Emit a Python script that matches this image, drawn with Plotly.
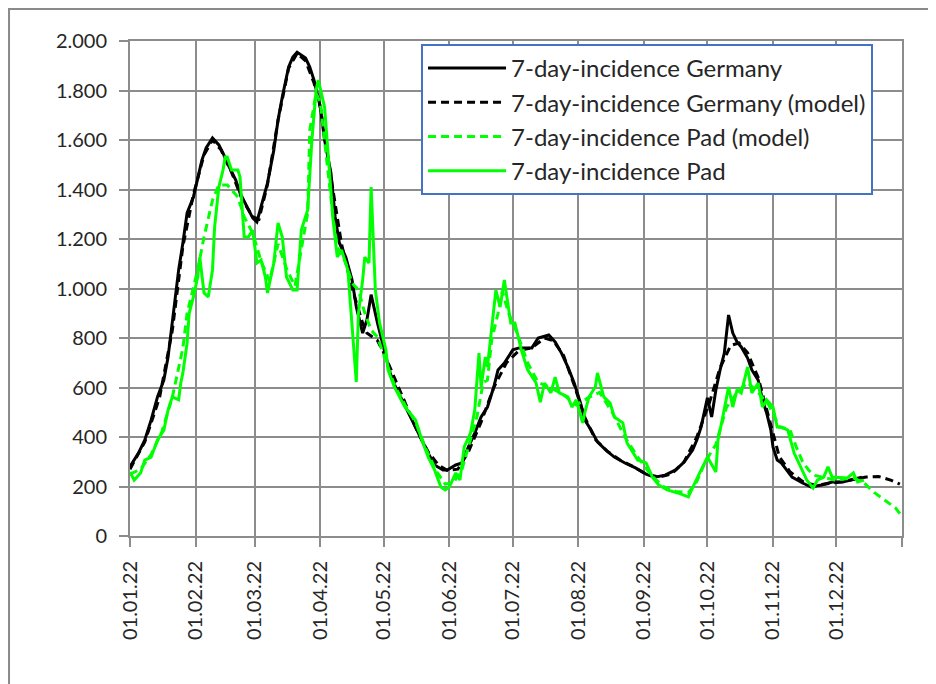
import pandas as pd
import plotly.graph_objects as go

# days since 01.01.2022 and 7-day incidence values
de_day = [0, 4, 7, 10, 13, 16, 18, 20, 21, 23, 25, 26, 27, 30, 32, 34, 36, 39, 42, 44,
          46, 50, 52, 56, 58, 60, 62, 65, 68, 70, 72, 75, 77, 79, 83, 85, 87, 90, 92, 95,
          97, 99, 102, 105, 107, 110, 112, 114, 117, 120, 122, 124, 127, 131, 136, 141, 144, 148, 150, 154,
          157, 160, 163, 166, 169, 172, 174, 177, 181, 184, 190, 193, 198, 201, 204, 207, 210, 213, 215, 218,
          221, 225, 229, 234, 239, 244, 248, 253, 258, 262, 266, 268, 270, 272, 273, 275, 277, 279, 281, 283,
          285, 287, 289, 292, 294, 297, 299, 301, 303, 304, 306, 308, 313, 318, 322, 327, 332, 337, 341, 346]
de_val = [280, 335, 388, 469, 562, 630, 723, 861, 941, 1075, 1184, 1248, 1305, 1370, 1451, 1519, 1568, 1608, 1580, 1547,
          1507, 1438, 1386, 1317, 1285, 1269, 1329, 1426, 1559, 1681, 1774, 1895, 1935, 1955, 1931, 1895, 1842, 1733, 1600, 1467,
          1289, 1184, 1127, 1034, 925, 820, 873, 975, 861, 752, 690, 630, 578, 509, 416, 335, 287, 267, 267, 287,
          295, 360, 416, 481, 521, 602, 671, 699, 752, 760, 760, 800, 812, 784, 739, 683, 618, 537, 469, 428,
          380, 347, 319, 295, 275, 250, 238, 246, 267, 299, 347, 388, 440, 521, 558, 481, 590, 671, 739, 893,
          820, 784, 764, 719, 671, 630, 550, 497, 428, 360, 307, 295, 238, 214, 198, 206, 218, 218, 226, 238]

de_model_day = [0, 7, 14, 20, 25, 30, 35, 39, 43, 48, 53, 58, 61, 65, 70, 75, 79, 83, 87, 90,
                95, 100, 105, 110, 112, 117, 120, 125, 131, 136, 141, 146, 150, 155, 160, 166, 172, 178, 184, 190,
                196, 200, 205, 210, 215, 220, 226, 232, 238, 244, 250, 256, 262, 268, 274, 279, 284, 288, 292, 297,
                302, 307, 312, 318, 324, 330, 336, 342, 348, 354, 360, 364]
de_model_val = [270, 380, 560, 830, 1170, 1380, 1540, 1600, 1560, 1470, 1360, 1290, 1280, 1420, 1680, 1890, 1950, 1920, 1830, 1730,
                1450, 1180, 1000, 860, 820, 790, 740, 640, 520, 420, 340, 285, 265, 270, 340, 460, 600, 700, 750, 760,
                800, 790, 730, 610, 480, 390, 340, 305, 280, 250, 238, 250, 300, 400, 540, 680, 770, 780, 740, 640,
                480, 320, 260, 220, 205, 210, 218, 228, 238, 240, 225, 210]

pad_day = [0, 2, 5, 7, 10, 13, 16, 18, 20, 23, 24, 25, 27, 28, 30, 32, 33, 35, 37, 39,
           40, 42, 44, 45, 46, 48, 51, 52, 53, 54, 56, 58, 60, 62, 64, 65, 68, 70, 72, 74,
           77, 79, 81, 83, 84, 86, 88, 89, 91, 92, 94, 96, 98, 100, 103, 105, 107, 108, 110, 111,
           113, 114, 116, 118, 121, 122, 125, 130, 135, 138, 141, 144, 147, 149, 151, 154, 156, 158, 161, 163,
           165, 166, 168, 169, 171, 173, 175, 177, 180, 182, 185, 188, 192, 194, 196, 199, 201, 203, 207, 209,
           211, 214, 215, 217, 220, 221, 224, 227, 229, 233, 235, 237, 240, 244, 247, 250, 254, 259, 264, 267,
           270, 273, 277, 278, 280, 283, 285, 287, 289, 292, 294, 297, 299, 301, 304, 306, 308, 311, 314, 317,
           320, 323, 325, 328, 330, 332, 336, 339, 342, 344, 347]
pad_val = [259, 226, 255, 307, 319, 388, 428, 509, 562, 550, 618, 659, 780, 901, 966, 1046, 1127, 982, 966, 1075,
           1248, 1410, 1479, 1531, 1531, 1479, 1479, 1451, 1329, 1208, 1208, 1236, 1103, 1115, 1046, 982, 1103, 1265, 1208, 1046,
           994, 994, 1236, 1289, 1317, 1600, 1802, 1842, 1774, 1733, 1507, 1277, 1127, 1156, 1075, 861, 622, 901, 1034, 1127,
           1103, 1410, 994, 861, 752, 671, 602, 521, 469, 388, 319, 267, 198, 186, 198, 255, 226, 360, 416, 509,
           739, 602, 723, 683, 832, 994, 925, 1034, 861, 861, 752, 671, 618, 541, 618, 578, 642, 578, 562, 521,
           550, 457, 497, 562, 602, 659, 562, 537, 481, 457, 376, 347, 307, 295, 238, 206, 186, 174, 158, 214,
           267, 319, 259, 388, 469, 602, 521, 590, 578, 683, 578, 618, 521, 550, 521, 440, 440, 428, 335, 279,
           226, 194, 226, 238, 279, 238, 234, 234, 255, 218, 226]

pad_model_day = [0, 5, 10, 15, 20, 25, 27, 32, 35, 39, 42, 46, 51, 54, 58, 62, 66, 70, 74, 78,
                 82, 84, 85, 88, 90, 92, 96, 98, 102, 105, 108, 111, 114, 117, 121, 125, 130, 135, 140, 145,
                 149, 153, 157, 161, 164, 167, 169, 171, 174, 176, 179, 183, 188, 193, 199, 205, 211, 217, 222, 228,
                 234, 240, 246, 252, 258, 264, 268, 272, 277, 282, 287, 292, 297, 302, 307, 312, 315, 318, 321, 324,
                 333, 342, 347, 352, 357, 362, 364]
pad_model_val = [250, 270, 330, 420, 560, 760, 900, 1075, 1208, 1357, 1418, 1418, 1370, 1289, 1224, 1110, 1030, 1180, 1080, 1010,
                 1208, 1305, 1640, 1790, 1750, 1600, 1289, 1168, 1103, 1022, 994, 901, 832, 804, 711, 610, 530, 460, 350, 260,
                 210, 215, 270, 390, 480, 620, 630, 792, 900, 990, 900, 820, 700, 620, 600, 570, 530, 560, 580, 500,
                 400, 320, 250, 200, 180, 175, 220, 300, 370, 520, 580, 620, 580, 530, 440, 430, 360, 300, 265, 245,
                 226, 235, 215, 175, 145, 113, 90]

month_ticks = pd.date_range("2022-01-01", "2023-01-01", freq="MS")
month_labels = [d.strftime("%d.%m.%y") for d in month_ticks[:-1]] + [""]

start = pd.Timestamp("2022-01-01")


def to_dates(days):
    return [start + pd.Timedelta(days=d) for d in days]


fig = go.Figure()
fig.add_trace(go.Scatter(x=to_dates(de_day), y=de_val, mode="lines",
                         name="7-day-incidence Germany",
                         line=dict(color="black", width=3)))
fig.add_trace(go.Scatter(x=to_dates(de_model_day), y=de_model_val, mode="lines",
                         name="7-day-incidence Germany (model)",
                         line=dict(color="black", width=3, dash="8px,5px")))
fig.add_trace(go.Scatter(x=to_dates(pad_model_day), y=pad_model_val, mode="lines",
                         name="7-day-incidence Pad (model)",
                         line=dict(color="#00ff00", width=3, dash="8px,5px")))
fig.add_trace(go.Scatter(x=to_dates(pad_day), y=pad_val, mode="lines",
                         name="7-day-incidence Pad",
                         line=dict(color="#00ff00", width=3)))

grid = "#8c8c8c"
font = dict(family="Lato", size=20, color="#262626")

# page has an 8px body margin, so the figure is a bit smaller than the window
fig.update_layout(
    width=928, height=676,
    margin=dict(l=122, r=34, t=33, b=148),
    paper_bgcolor="white", plot_bgcolor="white",
    separators=",.",
    font=font,
    showlegend=True,
    legend=dict(x=0.377, y=0.994, xanchor="left", yanchor="top",
                bgcolor="white", bordercolor="#4472c4", borderwidth=2,
                font=dict(family="Lato", size=24, color="#262626"),
                itemwidth=78),
    xaxis=dict(type="date", range=["2022-01-01", "2023-01-01"],
               tickvals=month_ticks, ticktext=month_labels, tickangle=-90,
               showgrid=True, gridcolor=grid, gridwidth=2,
               showline=True, linecolor=grid, linewidth=2, mirror=True,
               ticks="outside", ticklen=9, tickwidth=2, tickcolor=grid,
               ticklabelstandoff=6),
    yaxis=dict(range=[0, 2000], tickvals=list(range(0, 2001, 200)), tickformat=",d",
               showgrid=True, gridcolor=grid, gridwidth=2, zeroline=False,
               showline=True, linecolor=grid, linewidth=2, mirror=True,
               ticks="outside", ticklen=9, tickwidth=2, tickcolor=grid,
               ticklabelstandoff=8),
    shapes=[dict(type="path", xref="paper", yref="paper",
                 path="M -0.1567,-0.35 L -0.1567,1.0646 L 1.06,1.0646",
                 line=dict(color="#8a8a8a", width=2))],
)

fig.write_html("out.html")
